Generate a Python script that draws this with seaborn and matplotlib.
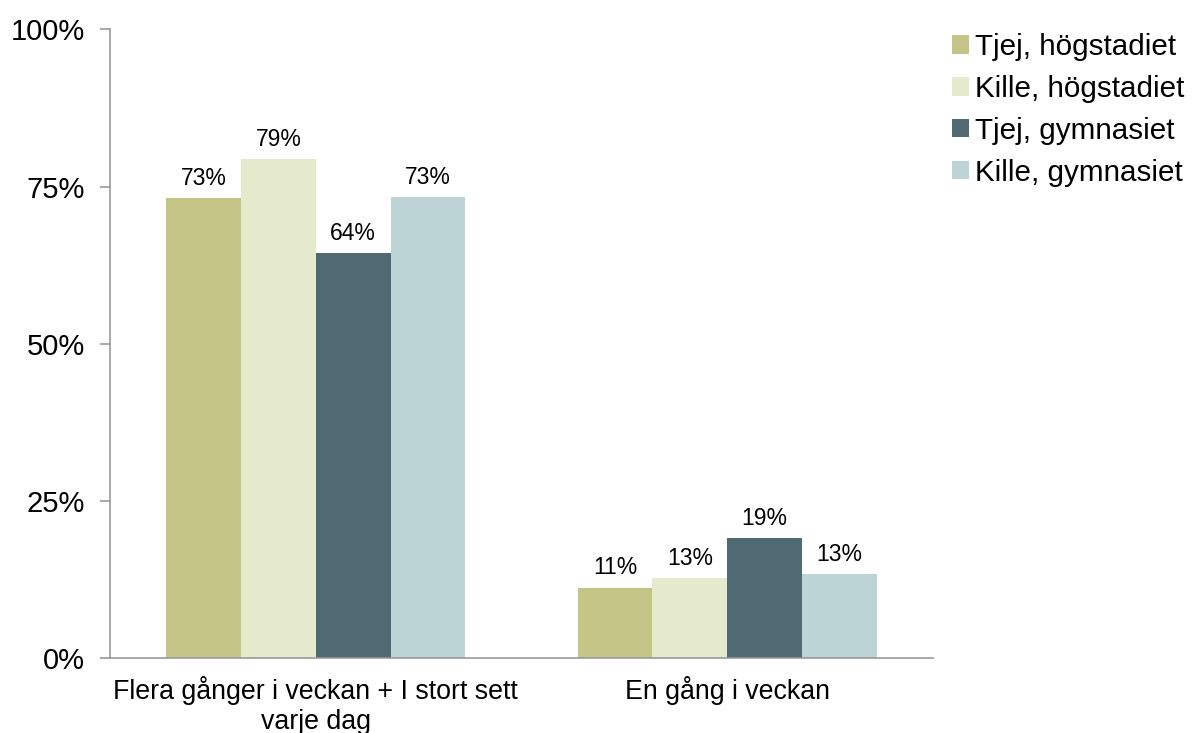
import matplotlib
matplotlib.use("Agg")
import matplotlib.pyplot as plt
import pandas as pd
import seaborn as sns

categories = ["Flera gånger i veckan + I stort sett\nvarje dag", "En gång i veckan"]
groups = ["Tjej, högstadiet", "Kille, högstadiet", "Tjej, gymnasiet", "Kille, gymnasiet"]
tjej_hog = [73.2, 11.2]
kille_hog = [79.4, 12.7]
tjej_gym = [64.4, 19.1]
kille_gym = [73.3, 13.3]
colors = ["#C5C487", "#E6EACC", "#4F6A73", "#BDD4D7"]
y_ticks = [0, 25, 50, 75, 100]

rows = []
for grp, vals in zip(groups, [tjej_hog, kille_hog, tjej_gym, kille_gym]):
    for cat, v in zip(categories, vals):
        rows.append({"kategori": cat, "grupp": grp, "andel": v})
df = pd.DataFrame(rows)

sns.set_style("white")
plt.rcParams["font.family"] = ["Liberation Sans", "DejaVu Sans"]
plt.rcParams["text.color"] = "black"
plt.rcParams["xtick.color"] = "black"
plt.rcParams["ytick.color"] = "black"

fig = plt.figure(figsize=(11.93, 7.33), dpi=100)
ax = fig.add_axes([0.0922, 0.1023, 0.6898, 0.8575])

sns.barplot(data=df, x="kategori", y="andel", hue="grupp", hue_order=groups,
            order=categories, palette=colors, saturation=1, width=0.727,
            linewidth=0, ax=ax, legend=True)

for cont in ax.containers:
    ax.bar_label(cont, labels=[f"{b.get_height():.0f}%" for b in cont],
                 padding=6, fontsize=16.5, color="black")

ax.set_ylim(0, 100)
ax.set_xlim(-0.5, 1.5)
ax.set_yticks(y_ticks)
ax.set_yticklabels([f"{t}%" for t in y_ticks], fontsize=21)
ax.set_xlabel("")
ax.set_ylabel("")
ax.tick_params(axis="x", which="major", length=0, labelsize=19.3, pad=13)
ax.set_xticks([-0.5, 0.5, 1.5], minor=True)
ax.tick_params(axis="x", which="minor", length=7, color="#999999", width=1.2)
ax.tick_params(axis="y", length=7, color="#999999", labelcolor="black", width=1.2, pad=11, left=True)

for s in ["top", "right"]:
    ax.spines[s].set_visible(False)
for s in ["left", "bottom"]:
    ax.spines[s].set_color("#999999")
    ax.spines[s].set_linewidth(1.2)

ax.legend(loc="upper left", bbox_to_anchor=(0.798, 0.955), bbox_transform=fig.transFigure,
          frameon=False, fontsize=21.3, handlelength=0.57, handleheight=0.57,
          handletextpad=0.2, labelspacing=0.47, borderaxespad=0, borderpad=0)

fig.savefig("out.png", dpi=100)
